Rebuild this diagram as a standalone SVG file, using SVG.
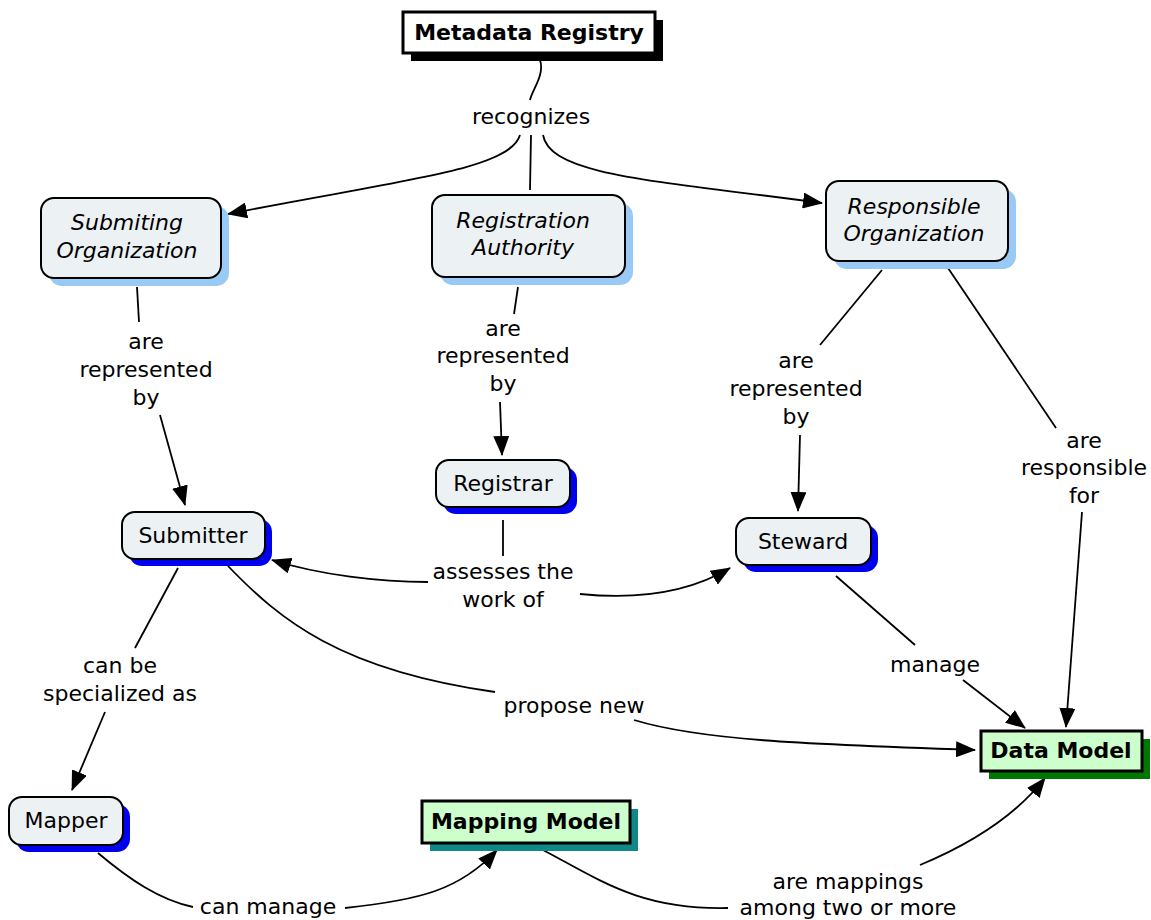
<svg xmlns="http://www.w3.org/2000/svg" width="1151" height="920" viewBox="0 0 1151 920">
<defs>
<marker id="arr" markerUnits="userSpaceOnUse" markerWidth="20" markerHeight="16" refX="19" refY="8" orient="auto">
<path d="M0,0 L20,8 L0,16 Z" fill="#000"/>
</marker>
<style>
text{font-family:"DejaVu Sans","Verdana",sans-serif;font-size:22px;fill:#000;text-anchor:middle}
.it{font-style:italic}
.bd{font-weight:bold}
.cn{fill:#ecf1f4;stroke:#000;stroke-width:2}
.shl{fill:#99c9f5}
.shb{fill:#0000ee}
.dm{fill:#ccffcc;stroke:#000;stroke-width:3}
.c{fill:none;stroke:#000;stroke-width:1.8}
.a{marker-end:url(#arr)}
</style>
</defs>
<rect width="1151" height="920" fill="#fff"/>
<g id="connectors">
<path class="c" d="M540,60 C545,75 532,90 530,100"/>
<path class="c a" d="M520,135 C510,170 400,180 228,214"/>
<path class="c" d="M531,135 L530,190"/>
<path class="c a" d="M543,135 C550,175 650,180 822,203"/>
<path class="c" d="M137,287 L139,322"/>
<path class="c a" d="M160,415 L185,505"/>
<path class="c" d="M518,287 L514,314"/>
<path class="c a" d="M500,402 L502,455"/>
<path class="c" d="M882,270 L820,345"/>
<path class="c a" d="M800,435 L798,511"/>
<path class="c" d="M948,268 L1056,428"/>
<path class="c a" d="M1082,512 L1066,727"/>
<path class="c" d="M503,520 L503,556"/>
<path class="c a" d="M428,582 C380,582 320,575 272,560"/>
<path class="c a" d="M580,594 C640,600 690,592 730,568"/>
<path class="c" d="M836,576 L915,645"/>
<path class="c a" d="M963,680 L1025,728"/>
<path class="c" d="M178,568 L135,648"/>
<path class="c a" d="M105,712 L72,790"/>
<path class="c" d="M228,566 C280,620 340,670 495,692"/>
<path class="c a" d="M634,720 C700,740 800,744 975,750"/>
<path class="c" d="M98,853 C130,880 160,900 193,907"/>
<path class="c a" d="M345,908 C420,900 460,890 497,850"/>
<path class="c" d="M543,850 C600,880 640,910 728,908"/>
<path class="c a" d="M920,865 C980,840 1020,810 1045,778"/>
</g>
<g id="lbl-recognizes"><text x="531" y="124">recognizes</text></g>
<g id="lbl-rep1"><text x="146" y="349">are</text><text x="146" y="377">represented</text><text x="146" y="405">by</text></g>
<g id="lbl-rep2"><text x="503" y="336">are</text><text x="503" y="363">represented</text><text x="503" y="391">by</text></g>
<g id="lbl-rep3"><text x="796" y="368">are</text><text x="796" y="396">represented</text><text x="796" y="424">by</text></g>
<g id="lbl-respfor"><text x="1084" y="448">are</text><text x="1084" y="475">responsible</text><text x="1084" y="503">for</text></g>
<g id="lbl-assesses"><text x="503" y="579">assesses the</text><text x="503" y="607">work of</text></g>
<g id="lbl-spec"><text x="120" y="673">can be</text><text x="120" y="701">specialized as</text></g>
<g id="lbl-propose"><text x="574" y="713">propose new</text></g>
<g id="lbl-manage"><text x="935" y="672">manage</text></g>
<g id="lbl-canmanage"><text x="268" y="914">can manage</text></g>
<g id="lbl-mappings"><text x="848" y="889">are mappings</text><text x="848" y="915">among two or more</text></g>

<g id="n-metadata-registry">
<rect x="411" y="20" width="252" height="41" fill="#000"/>
<rect x="403" y="12" width="252" height="41" fill="#fff" stroke="#000" stroke-width="3"/>
<text class="bd" x="529" y="40">Metadata Registry</text>
</g>
<g id="n-submiting-org">
<rect x="49" y="206" width="180" height="80" rx="13" class="shl"/>
<rect x="41" y="198" width="180" height="80" rx="13" class="cn"/>
<text class="it" x="127" y="230">Submiting</text><text class="it" x="127" y="258">Organization</text>
</g>
<g id="n-registration-authority">
<rect x="440" y="203" width="193" height="82" rx="13" class="shl"/>
<rect x="432" y="195" width="193" height="82" rx="13" class="cn"/>
<text class="it" x="523" y="228">Registration</text><text class="it" x="523" y="255">Authority</text>
</g>
<g id="n-responsible-org">
<rect x="834" y="189" width="182" height="80" rx="13" class="shl"/>
<rect x="826" y="181" width="182" height="80" rx="13" class="cn"/>
<text class="it" x="914" y="214">Responsible</text><text class="it" x="914" y="241">Organization</text>
</g>
<g id="n-submitter">
<rect x="129" y="519" width="143" height="47" rx="13" class="shb"/>
<rect x="122" y="512" width="143" height="47" rx="13" class="cn"/>
<text x="193" y="543">Submitter</text>
</g>
<g id="n-registrar">
<rect x="443" y="467" width="134" height="47" rx="13" class="shb"/>
<rect x="436" y="460" width="134" height="47" rx="13" class="cn"/>
<text x="503" y="491">Registrar</text>
</g>
<g id="n-steward">
<rect x="743" y="525" width="135" height="47" rx="13" class="shb"/>
<rect x="736" y="518" width="135" height="47" rx="13" class="cn"/>
<text x="803" y="549">Steward</text>
</g>
<g id="n-mapper">
<rect x="16" y="804" width="114" height="48" rx="13" class="shb"/>
<rect x="9" y="797" width="114" height="48" rx="13" class="cn"/>
<text x="66" y="828">Mapper</text>
</g>
<g id="n-data-model">
<rect x="989" y="739" width="161" height="40" fill="#007700"/>
<rect x="981" y="731" width="161" height="40" class="dm"/>
<text class="bd" x="1061" y="758">Data Model</text>
</g>
<g id="n-mapping-model">
<rect x="430" y="809" width="208" height="42" fill="#118888"/>
<rect x="422" y="801" width="208" height="42" class="dm"/>
<text class="bd" x="526" y="829">Mapping Model</text>
</g>
</svg>
